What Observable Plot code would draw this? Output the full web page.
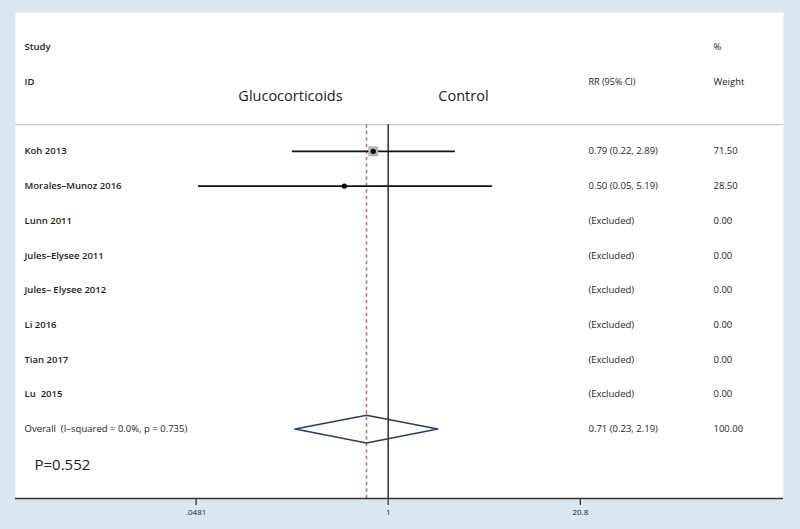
<!DOCTYPE html>
<html>
<head>
<meta charset="utf-8">
<script src="https://cdn.jsdelivr.net/npm/d3@7"></script>
<script src="https://cdn.jsdelivr.net/npm/@observablehq/plot@0.6"></script>
<style>
  html, body { margin: 0; padding: 0; background: #dce6ee; }
  svg text { white-space: pre; }
</style>
</head>
<body>
<div id="chart"></div>
<script>
// ---- data ----
const studies = ["Koh 2013", "Morales–Munoz 2016", "Lunn 2011", "Jules–Elysee 2011", "Jules– Elysee 2012", "Li 2016", "Tian 2017", "Lu  2015"];
const rr      = [0.79, 0.50, null, null, null, null, null, null];
const ciLow   = [0.22, 0.05, null, null, null, null, null, null];
const ciHigh  = [2.89, 5.19, null, null, null, null, null, null];
const weights = [71.50, 28.50, 0, 0, 0, 0, 0, 0];

const overallLabel = "Overall  (I–squared = 0.0%, p = 0.735)";
const overallRR = 0.71;
const overallLow = 0.23;
const overallHigh = 2.19;
const overallWeight = 100.00;

const pValueLabel = "P=0.552";
const groupLabels = ["Glucocorticoids", "Control"];
const headerStudy = ["Study", "ID"];
const headerRR = "RR (95% CI)";
const headerWeight = ["%", "Weight"];

const tickValues = [0.0481, 1, 20.8];
const tickLabels = [".0481", "1", "20.8"];

// ---- build table ----
const fmt = d3.format(".2f");
const rows = studies.map((s, i) => ({
  study: s, row: i + 1, rr: rr[i], lo: ciLow[i], hi: ciHigh[i], w: weights[i],
  rrText: rr[i] == null ? "(Excluded)" : `${fmt(rr[i])} (${fmt(ciLow[i])}, ${fmt(ciHigh[i])})`,
  wText: fmt(weights[i])
}));
const est = rows.filter(d => d.rr != null);
const overallRow = studies.length + 1;
const diamond = [
  {x: overallLow, y: overallRow},
  {x: overallRR, y: overallRow - 0.4},
  {x: overallHigh, y: overallRow},
  {x: overallRR, y: overallRow + 0.4},
  {x: overallLow, y: overallRow}
];
const ticks = tickValues.map((v, i) => ({v, label: tickLabels[i]}));

const font = "'Open Sans', sans-serif";
const txt = "#1c1c1c";

const chart = Plot.plot({
  width: 800,
  height: 529,
  marginLeft: 15,
  marginRight: 17,
  marginTop: 12,
  marginBottom: 31,
  x: {type: "log", domain: [0.002774, 515.6], axis: null},
  y: {domain: [-3, 11], reverse: true, axis: null},
  r: {type: "linear", domain: [0, 71.5], range: [0, 5.6]},
  style: {background: "#dce6ee", fontFamily: font, color: txt},
  marks: [
    Plot.frame({fill: "white", stroke: "none"}),
    Plot.ruleY([0.23], {stroke: "#c9c9c9", strokeWidth: 1.2}),
    // reference lines
    Plot.ruleX([overallRR], {y1: 0.23, y2: 11, stroke: "#b8716b", strokeWidth: 1.5, strokeDasharray: "3.5,3"}),
    Plot.ruleX([1], {y1: 0.23, y2: 11, stroke: "#111", strokeWidth: 1.3}),
    // CIs
    Plot.ruleY(est, {y: "row", x1: "lo", x2: "hi", stroke: "#111", strokeWidth: 1.8}),
    // weight boxes
    Plot.dot(est, {x: "rr", y: "row", r: "w", symbol: "square", fill: "#b5b5b5", stroke: "none"}),
    Plot.dot(est, {x: "rr", y: "row", r: 2.6, fill: "#000", stroke: "none"}),
    // diamond
    Plot.line(diamond, {x: "x", y: "y", stroke: "#2b3b6c", strokeWidth: 1.6, curve: "linear"}),
    // axis
    Plot.ruleY([11], {stroke: "#333", strokeWidth: 1.6}),
    Plot.ruleX(ticks, {x: "v", y1: 11, y2: 11.2, stroke: "#333", strokeWidth: 1.3}),
    Plot.text(ticks, {x: "v", y: 11, text: "label", dy: 14, fontSize: 8, fill: txt}),
    // header texts
    Plot.text(headerStudy, {y: (d, i) => i - 2, text: d => d, frameAnchor: "left", dx: 9, textAnchor: "start", fontSize: 9.5, fontWeight: 600, fill: txt}),
    Plot.text([headerRR], {y: -1, text: d => d, frameAnchor: "left", dx: 573, textAnchor: "start", fontSize: 9, fontWeight: 500, fill: txt}),
    Plot.text(headerWeight, {y: (d, i) => i - 2, text: d => d, frameAnchor: "left", dx: 698, textAnchor: "start", fontSize: 9.5, fontWeight: 500, fill: txt}),
    Plot.text(groupLabels, {y: -0.58, text: d => d, textAnchor: "middle", fontSize: 14.5, fill: txt,
      x: (d, i) => [0.2137, 3.286][i]}),
    // rows
    Plot.text(rows, {y: "row", text: "study", frameAnchor: "left", dx: 9, textAnchor: "start", fontSize: 9.5, fontWeight: 600, fill: txt}),
    Plot.text(rows, {y: "row", text: "rrText", frameAnchor: "left", dx: 573, textAnchor: "start", fontSize: 9.5, fontWeight: 500, fill: txt}),
    Plot.text(rows, {y: "row", text: "wText", frameAnchor: "left", dx: 698, textAnchor: "start", fontSize: 9.5, fontWeight: 500, fill: txt}),
    Plot.text([overallLabel], {y: overallRow, text: d => d, frameAnchor: "left", dx: 9, textAnchor: "start", fontSize: 9.5, fontWeight: 500, fill: txt}),
    Plot.text([`${fmt(overallRR)} (${fmt(overallLow)}, ${fmt(overallHigh)})`], {y: overallRow, text: d => d, frameAnchor: "left", dx: 573, textAnchor: "start", fontSize: 9.5, fontWeight: 500, fill: txt}),
    Plot.text([fmt(overallWeight)], {y: overallRow, text: d => d, frameAnchor: "left", dx: 698, textAnchor: "start", fontSize: 9.5, fontWeight: 500, fill: txt}),
    Plot.text([pValueLabel], {y: 10.05, text: d => d, frameAnchor: "left", dx: 19, textAnchor: "start", fontSize: 15, fill: txt})
  ]
});
document.getElementById("chart").appendChild(chart);
</script>
</body>
</html>
